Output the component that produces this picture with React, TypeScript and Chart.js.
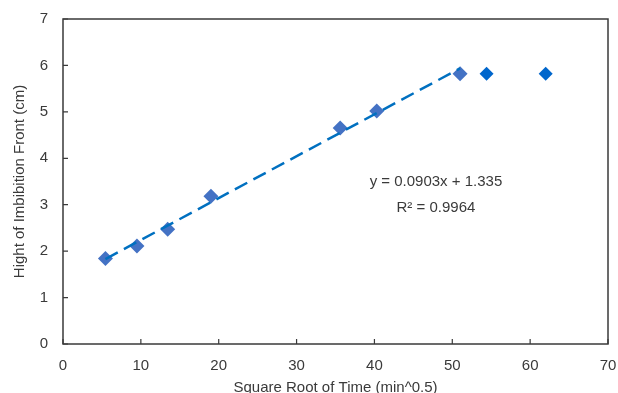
import React, { useEffect, useRef } from "react";
import { Chart, registerables } from "chart.js";

Chart.register(...registerables);

// Series 1 (fitted points)
const fitX = [5.45, 9.5, 13.45, 19.0, 35.6, 40.3, 51.0];
const fitY = [1.84, 2.11, 2.47, 3.18, 4.65, 5.02, 5.82];
// Series 2 (plateau points)
const plateauX = [54.4, 62.0];
const plateauY = [5.82, 5.82];

const equationLabel = "y = 0.0903x + 1.335";
const r2Label = "R\u00B2 = 0.9964";
const xTitle = "Square Root of Time (min^0.5)";
const yTitle = "Hight of Imbibition Front (cm)";

const FONT = "'Liberation Sans', Arial, Helvetica, sans-serif";
const TEXT = "#3a3a3a";

function linearFit(xs: number[], ys: number[]) {
  const n = xs.length;
  const mx = xs.reduce((a, b) => a + b, 0) / n;
  const my = ys.reduce((a, b) => a + b, 0) / n;
  let sxy = 0;
  let sxx = 0;
  for (let i = 0; i < n; i++) {
    sxy += (xs[i] - mx) * (ys[i] - my);
    sxx += (xs[i] - mx) * (xs[i] - mx);
  }
  const slope = sxy / sxx;
  return { slope, intercept: my - slope * mx };
}

const framePlugin = {
  id: "frame",
  afterDraw(chart: any) {
    const { ctx, chartArea, scales } = chart;
    const { left, right, top, bottom } = chartArea;
    ctx.save();
    ctx.strokeStyle = "#3a3a3a";
    ctx.lineWidth = 1.5;
    ctx.strokeRect(left, top, right - left, bottom - top);
    ctx.lineWidth = 1.2;
    ctx.beginPath();
    scales.x.ticks.forEach((t: any) => {
      const px = scales.x.getPixelForValue(t.value);
      ctx.moveTo(px, bottom);
      ctx.lineTo(px, bottom - 5);
    });
    scales.y.ticks.forEach((t: any) => {
      const py = scales.y.getPixelForValue(t.value);
      ctx.moveTo(left, py);
      ctx.lineTo(left + 5, py);
    });
    ctx.stroke();
    // trendline equation labels
    ctx.fillStyle = TEXT;
    ctx.font = `15px ${FONT}`;
    ctx.textAlign = "center";
    ctx.textBaseline = "middle";
    const lx = scales.x.getPixelForValue(47.9);
    ctx.fillText(equationLabel, lx, scales.y.getPixelForValue(3.5));
    ctx.fillText(r2Label, lx, scales.y.getPixelForValue(2.93));
    ctx.restore();
  },
};

export default function App() {
  const ref = useRef<HTMLCanvasElement | null>(null);

  useEffect(() => {
    if (!ref.current) return;
    const fit = linearFit(fitX, fitY);
    const x0 = Math.min(...fitX);
    const x1 = Math.max(...fitX);
    const trend = [
      { x: x0, y: fit.slope * x0 + fit.intercept },
      { x: x1, y: fit.slope * x1 + fit.intercept },
    ];

    const chart = new Chart(ref.current, {
      type: "scatter",
      data: {
        datasets: [
          {
            label: "Linear fit",
            data: trend,
            showLine: true,
            borderColor: "#0070C0",
            borderWidth: 2.5,
            borderDash: [14, 7],
            pointRadius: 0,
            fill: false,
          } as any,
          {
            label: "Data",
            data: fitX.map((x, i) => ({ x, y: fitY[i] })),
            pointStyle: "rectRot",
            pointRadius: 7.5,
            backgroundColor: "#4472C4",
            borderColor: "#4472C4",
            borderWidth: 0,
          },
          {
            label: "Plateau",
            data: plateauX.map((x, i) => ({ x, y: plateauY[i] })),
            pointStyle: "rectRot",
            pointRadius: 7,
            backgroundColor: "#0066CC",
            borderColor: "#0066CC",
            borderWidth: 0,
          },
        ],
      },
      options: {
        animation: false,
        responsive: true,
        maintainAspectRatio: false,
        layout: { padding: { left: 0, top: 19, right: 10, bottom: 0 } },
        plugins: {
          legend: { display: false },
          tooltip: { enabled: false },
        },
        scales: {
          x: {
            type: "linear",
            min: 0,
            max: 70,
            afterFit: (s: any) => {
              s.height = 49;
              s.paddingLeft = 0;
              s.paddingRight = 0;
            },
            ticks: {
              stepSize: 10,
              padding: 13,
              color: TEXT,
              font: { family: FONT, size: 15 },
              maxRotation: 0,
            },
            grid: { display: false, drawTicks: false },
            border: { display: false },
            title: {
              display: true,
              text: xTitle,
              color: TEXT,
              font: { family: FONT, size: 15 },
              padding: { top: 0, bottom: -4 },
            },
          },
          y: {
            type: "linear",
            min: 0,
            max: 7,
            afterFit: (s: any) => {
              s.width = 63;
              s.paddingTop = 0;
              s.paddingBottom = 0;
            },
            ticks: {
              stepSize: 1,
              padding: 15,
              color: TEXT,
              font: { family: FONT, size: 15 },
            },
            grid: { display: false, drawTicks: false },
            border: { display: false },
            title: {
              display: true,
              text: yTitle,
              color: TEXT,
              font: { family: FONT, size: 15 },
              padding: { top: 11, bottom: 0 },
            },
          },
        },
      },
      plugins: [framePlugin],
    });
    return () => chart.destroy();
  }, []);

  return (
    <div style={{ position: "fixed", left: 0, top: 0, width: 618, height: 393, background: "#fff" }}>
      <canvas ref={ref} />
    </div>
  );
}
